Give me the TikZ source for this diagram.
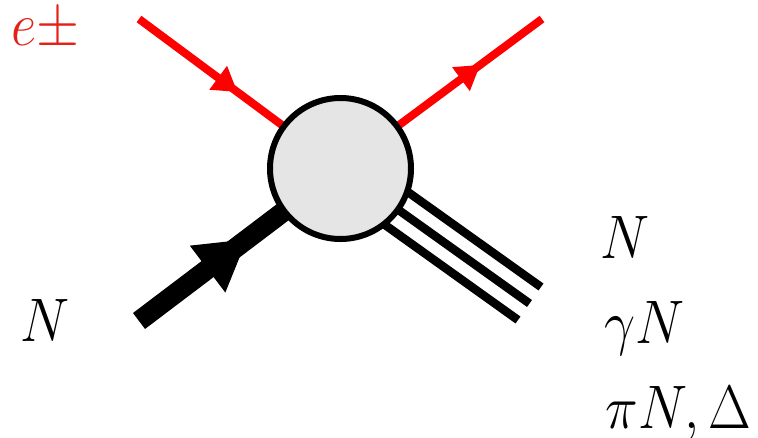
\documentclass[tikz,border=0pt]{standalone}
\usetikzlibrary{arrows.meta,decorations.markings,calc,backgrounds}
\definecolor{lepred}{RGB}{255,0,0}
\definecolor{labred}{RGB}{228,33,24}
\definecolor{blobgray}{RGB}{229,229,229}
\tikzset{
  lepton/.style={draw=lepred,line width=8pt},
  hadron/.style={draw=black,line width=20pt},
  finalline/.style={draw=black,line width=8.5pt},
  blobnode/.style={circle,draw=black,fill=blobgray,line width=6pt,minimum size=141pt,inner sep=0pt},
  lbl/.style={anchor=base west,inner sep=0pt,font=\Huge,xscale=2.22,yscale=2.47},
  redarrowat/.style={postaction={decorate},decoration={markings,mark=at position #1 with {\arrow{Triangle[length=24pt,width=28pt]}}}},
  blackarrowat/.style={postaction={decorate},decoration={markings,mark=at position #1 with {\arrow{Triangle[length=50pt,width=55pt]}}}},
}
\begin{document}
\begin{tikzpicture}[x=1pt,y=-1pt]
\useasboundingbox (0,0) rectangle (758,437);
\node[blobnode] (blob) at (340.5,168.5) {};
\coordinate (ein) at (139,19);
\coordinate (eout) at (542,19);
\coordinate (nin) at (139,321);
\coordinate (f1) at (541,287);
\coordinate (f2) at (529.5,303.5);
\coordinate (f3) at (518,320);
\begin{scope}[on background layer]
  \draw[lepton,redarrowat=122.6pt] (ein) -- (blob.center);
  \draw[lepton,redarrowat=174pt] (blob.center) -- (eout);
  \draw[hadron,blackarrowat=136pt] (nin) -- (blob.center);
  \draw[finalline] ($(blob.center)+(11.6,-16.3)$) -- (f1);
  \draw[finalline] (blob.center) -- (f2);
  \draw[finalline] ($(blob.center)+(-11.6,16.3)$) -- (f3);
\end{scope}
\node[lbl,text=labred] (lep) at (11,45) {$e{\pm}$};
\node[lbl] (nl) at (20,341) {$N$};
\node[lbl] (n1) at (600,258) {$N$};
\node[lbl] (n2) at (604,343) {$\gamma N$};
\node[lbl] (n3) at (605,428) {$\pi N, \Delta$};
\end{tikzpicture}
\end{document}
